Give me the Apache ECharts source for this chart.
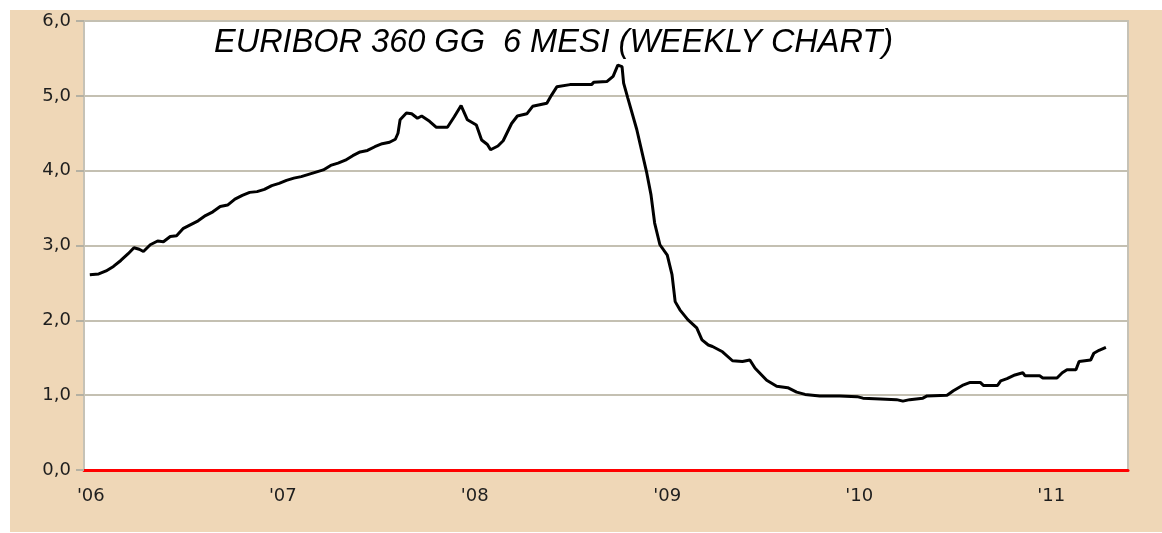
<!DOCTYPE html>
<html>
<head>
<meta charset="utf-8">
<script src="https://cdn.jsdelivr.net/npm/echarts@6/dist/echarts.min.js"></script>
<style>
  html, body { margin: 0; padding: 0; background: #ffffff; }
  #chart { position: absolute; left: 10px; top: 10px; width: 1152px; height: 522px; }
</style>
</head>
<body>
<div id="chart"></div>
<script>
const titleText = "EURIBOR 360 GG  6 MESI (WEEKLY CHART)";
const yearTicks = ['2006-01-01', '2007-01-01', '2008-01-01', '2009-01-01', '2010-01-01', '2011-01-01'];
const yTicks = [0, 1, 2, 3, 4, 5, 6];
const xRange = ['2005-12-19', '2011-05-27'];

const dates = [
  '2005-12-30','2006-01-16','2006-01-30','2006-02-13','2006-02-27','2006-03-13','2006-03-24','2006-04-03','2006-04-11','2006-04-24',
  '2006-05-08','2006-05-19','2006-06-01','2006-06-13','2006-06-26','2006-07-10','2006-07-24','2006-08-07','2006-08-21','2006-09-04',
  '2006-09-18','2006-10-02','2006-10-16','2006-10-30','2006-11-13','2006-11-27','2006-12-11','2006-12-25',
  '2007-01-08','2007-01-22','2007-02-05','2007-02-19','2007-03-05','2007-03-19','2007-04-02','2007-04-16','2007-04-30','2007-05-14',
  '2007-05-28','2007-06-11','2007-06-25','2007-07-09','2007-07-23','2007-08-03','2007-08-08','2007-08-12','2007-08-24','2007-09-03',
  '2007-09-14','2007-09-22','2007-10-07','2007-10-20','2007-11-10','2007-11-23','2007-12-06','2007-12-18',
  '2008-01-04','2008-01-14','2008-01-25','2008-01-31','2008-02-14','2008-02-24','2008-03-11','2008-03-22','2008-04-09','2008-04-20',
  '2008-05-17','2008-05-26','2008-06-05','2008-06-30','2008-08-10','2008-08-14','2008-09-08','2008-09-20','2008-09-29','2008-10-07',
  '2008-10-10','2008-10-18','2008-11-04','2008-11-23','2008-12-01','2008-12-08','2008-12-18',
  '2009-01-01','2009-01-10','2009-01-16','2009-01-25','2009-02-09','2009-02-26','2009-03-08','2009-03-20','2009-03-28','2009-04-16',
  '2009-05-05','2009-05-24','2009-06-07','2009-06-17','2009-07-09','2009-07-28','2009-08-18','2009-09-04','2009-09-20','2009-10-18',
  '2009-11-25','2009-12-28',
  '2010-01-08','2010-02-10','2010-03-13','2010-03-25','2010-04-07','2010-05-02','2010-05-10','2010-06-17','2010-06-29','2010-07-16',
  '2010-07-31','2010-08-19','2010-08-25','2010-09-21','2010-09-27','2010-10-09','2010-10-24','2010-11-08','2010-11-12','2010-12-10',
  '2010-12-16',
  '2011-01-12','2011-01-22','2011-01-31','2011-02-17','2011-02-23','2011-03-17','2011-03-23','2011-04-02','2011-04-15'
];

const rates = [
  2.61, 2.62, 2.66, 2.72, 2.80, 2.89, 2.97, 2.95, 2.92, 3.01,
  3.06, 3.05, 3.12, 3.13, 3.23, 3.28, 3.33, 3.40, 3.45, 3.52,
  3.54, 3.62, 3.67, 3.71, 3.72, 3.75, 3.80, 3.83,
  3.87, 3.90, 3.92, 3.95, 3.98, 4.01, 4.07, 4.10, 4.14, 4.20,
  4.25, 4.27, 4.32, 4.36, 4.38, 4.42, 4.50, 4.68, 4.77, 4.76,
  4.70, 4.73, 4.66, 4.58, 4.58, 4.72, 4.87, 4.68,
  4.61, 4.41, 4.35, 4.28, 4.33, 4.40, 4.63, 4.73, 4.76, 4.86,
  4.90, 5.01, 5.12, 5.15, 5.15, 5.18, 5.19, 5.26, 5.41, 5.39,
  5.17, 4.97, 4.55, 3.97, 3.68, 3.30, 3.01,
  2.87, 2.61, 2.25, 2.14, 2.01, 1.90, 1.74, 1.67, 1.65, 1.58,
  1.46, 1.45, 1.47, 1.36, 1.20, 1.12, 1.10, 1.04, 1.01, 0.99,
  0.99, 0.98,
  0.96, 0.95, 0.94, 0.92, 0.94, 0.96, 0.99, 1.00, 1.06, 1.13,
  1.17, 1.17, 1.13, 1.13, 1.19, 1.22, 1.27, 1.30, 1.26, 1.26,
  1.23,
  1.23, 1.30, 1.34, 1.34, 1.45, 1.47, 1.56, 1.60, 1.64
];

function ts(s) { return new Date(s + 'T00:00:00Z').getTime(); }

const chart = echarts.init(document.getElementById('chart'));
const borderGray = '#c6c2b6';
const textColor = '#1e1e1e';

chart.setOption({
  backgroundColor: '#efd7b7',
  animation: false,
  title: {
    text: titleText,
    left: 199,
    top: 11,
    textStyle: {
      fontFamily: 'Liberation Sans',
      fontStyle: 'italic',
      fontWeight: 'normal',
      fontSize: 32.5,
      color: '#000000'
    }
  },
  grid: {
    left: 74, right: 34, top: 11, bottom: 62,
    show: true,
    backgroundColor: '#ffffff',
    borderColor: borderGray,
    borderWidth: 2
  },
  xAxis: {
    type: 'value',
    min: ts(xRange[0]),
    max: ts(xRange[1]),
    axisLine: { show: true, onZero: false, lineStyle: { color: '#ff0000', width: 3 } },
    axisTick: { show: false },
    splitLine: { show: false },
    axisLabel: {
      customValues: yearTicks.map(ts),
      margin: 17,
      fontFamily: 'DejaVu Sans',
      fontSize: 18,
      color: textColor,
      formatter: function (v) {
        return "'" + String(new Date(v).getUTCFullYear()).slice(2);
      }
    }
  },
  yAxis: {
    type: 'value',
    min: yTicks[0],
    max: yTicks[yTicks.length - 1],
    interval: 1,
    axisLine: { show: true, lineStyle: { color: borderGray, width: 2 } },
    axisTick: { show: true, length: 8, lineStyle: { color: '#b4b0a2', width: 2 } },
    splitLine: { show: true, lineStyle: { color: '#c4c0b2', width: 2 } },
    axisLabel: {
      margin: 13,
      fontFamily: 'DejaVu Sans',
      fontSize: 18,
      color: textColor,
      formatter: function (v) { return v.toFixed(1).replace('.', ','); }
    }
  },
  series: [{
    type: 'line',
    data: dates.map(function (d, i) { return [ts(d), rates[i]]; }),
    showSymbol: false,
    symbol: 'none',
    lineStyle: { color: '#000000', width: 3 },
    z: 3
  }]
});
</script>
</body>
</html>
